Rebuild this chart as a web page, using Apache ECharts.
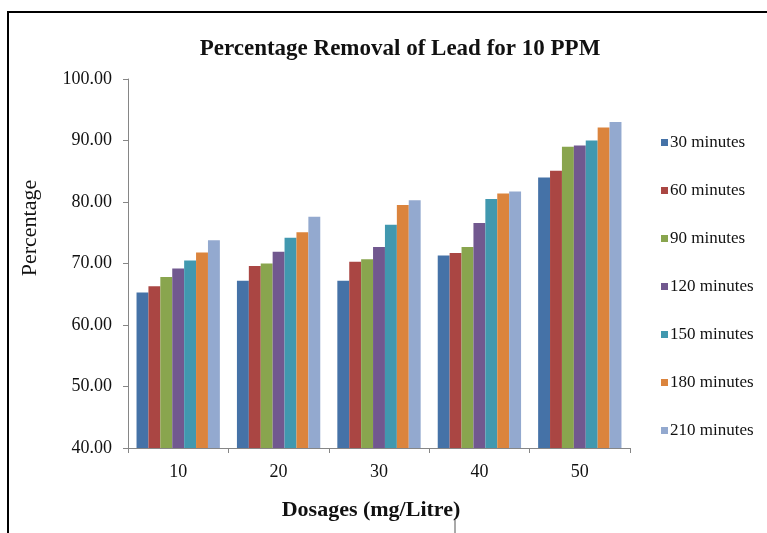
<!DOCTYPE html>
<html>
<head>
<meta charset="utf-8">
<script src="https://cdn.jsdelivr.net/npm/echarts@6/dist/echarts.min.js"></script>
<style>html,body{margin:0;padding:0;background:#fff;}#c{width:767px;height:533px;}</style>
</head>
<body>
<div id="c"></div>
<script>
const categories = ['10', '20', '30', '40', '50'];
const seriesNames = ['30 minutes', '60 minutes', '90 minutes', '120 minutes', '150 minutes', '180 minutes', '210 minutes'];
const s30  = [65.3, 67.2, 67.2, 71.3, 84.0];
const s60  = [66.3, 69.6, 70.3, 71.7, 85.1];
const s90  = [67.8, 70.0, 70.7, 72.7, 89.0];
const s120 = [69.2, 71.9, 72.7, 76.6, 89.2];
const s150 = [70.5, 74.2, 76.3, 80.5, 90.0];
const s180 = [71.8, 75.1, 79.5, 81.4, 92.1];
const s210 = [73.8, 77.6, 80.3, 81.7, 93.0];
const yTicks = [40, 50, 60, 70, 80, 90, 100];

const seriesData = [s30, s60, s90, s120, s150, s180, s210];
const colors = ['#4572A7', '#AA4643', '#89A54E', '#71588F', '#4198AF', '#DB843D', '#93A9CF'];
const serif = '"Liberation Serif", "DejaVu Serif", serif';

const chart = echarts.init(document.getElementById('c'), null, {renderer: 'canvas'});
chart.setOption({
  animation: false,
  backgroundColor: '#fff',
  color: colors,
  title: {
    text: 'Percentage Removal of Lead for 10 PPM',
    left: 395, top: 33, textAlign: 'center',
    textStyle: {fontFamily: serif, fontSize: 23, fontWeight: 'bold', color: '#111'}
  },
  grid: {left: 128, right: 137, top: 79, bottom: 85, containLabel: false},
  legend: {
    orient: 'vertical', left: 656, top: 129,
    icon: 'rect', itemWidth: 7, itemHeight: 7, itemGap: 31,
    textStyle: {fontFamily: serif, fontSize: 17, color: '#111', lineHeight: 16, padding: [0, 0, 0, -3]},
    data: seriesNames
  },
  xAxis: {
    type: 'category', data: categories,
    name: 'Dosages (mg/Litre)', nameLocation: 'middle', nameGap: 51,
    nameTextStyle: {fontFamily: serif, fontSize: 22, fontWeight: 'bold', color: '#111', padding: [0, 16, 0, 0]},
    axisLine: {lineStyle: {color: '#868686', width: 1}},
    axisTick: {show: true, length: 5, alignWithLabel: false, lineStyle: {color: '#868686'}},
    axisLabel: {fontFamily: serif, fontSize: 18, color: '#111', margin: 15}
  },
  yAxis: {
    type: 'value', min: yTicks[0], max: yTicks[yTicks.length - 1], interval: 10,
    axisLine: {show: true, lineStyle: {color: '#868686', width: 1}},
    axisTick: {show: true, length: 5, lineStyle: {color: '#868686'}},
    splitLine: {show: false},
    axisLabel: {fontFamily: serif, fontSize: 18, color: '#111', margin: 16,
      formatter: v => v.toFixed(2)}
  },
  graphic: [
    {type: 'rect', shape: {x: 8, y: 12, width: 800, height: 600},
     style: {fill: 'none', stroke: '#000', lineWidth: 2}, silent: true, z: 100},
    {type: 'text', x: 30, y: 228, rotation: Math.PI / 2,
     style: {text: 'Percentage', fontFamily: serif, fontSize: 22, fill: '#111',
       align: 'center', verticalAlign: 'middle'}},
    {type: 'line', shape: {x1: 455, y1: 520, x2: 455, y2: 533},
     style: {stroke: '#555', lineWidth: 1}}
  ],
  series: seriesNames.map((n, i) => ({
    name: n, type: 'bar', data: seriesData[i],
    barGap: '0%', barCategoryGap: '17%',
    itemStyle: {color: colors[i]}
  }))
});
</script>
</body>
</html>
